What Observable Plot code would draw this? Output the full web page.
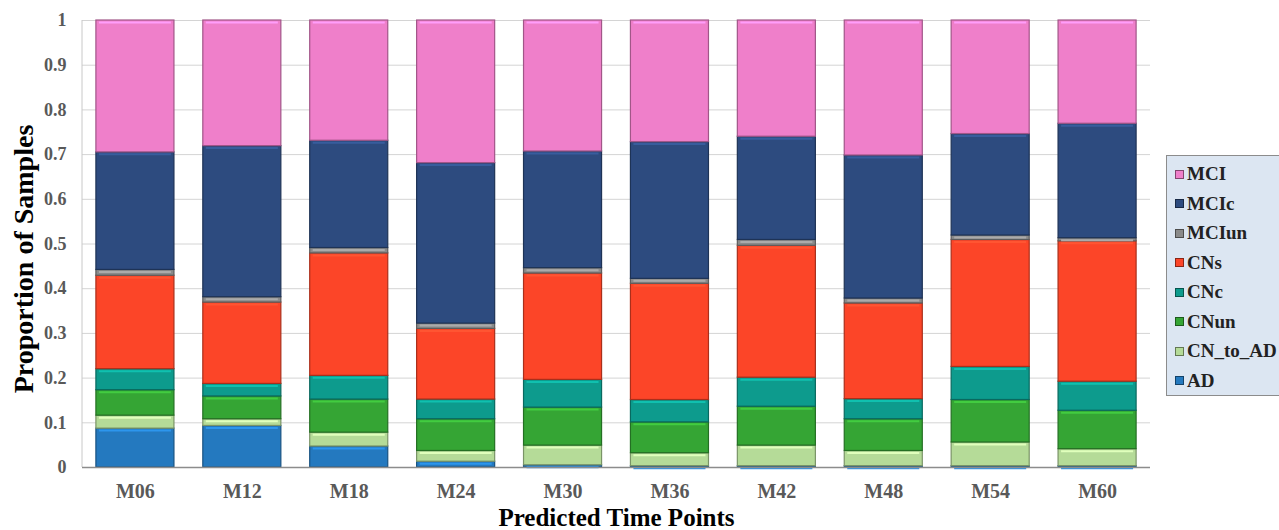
<!DOCTYPE html>
<html>
<head>
<meta charset="utf-8">
<script src="https://cdn.jsdelivr.net/npm/d3@7"></script>
<script src="https://cdn.jsdelivr.net/npm/@observablehq/plot@0.6"></script>
<style>
  html, body { margin: 0; padding: 0; background: #fff; overflow: hidden; }
  #wrap { position: relative; width: 1279px; height: 530px; }
  #legend { position: absolute; left: 1166px; top: 155px; width: 140px; height: 241px;
    background: #dce6f2; border: 1px solid #8c8c8c; box-sizing: border-box;
    font-family: "Liberation Serif", serif; font-weight: bold; font-size: 19px; color: #222; }
  .item { position: absolute; left: 8px; display: flex; align-items: center; height: 22px; white-space: nowrap; }
  .sw { width: 9px; height: 9px; margin-right: 3px; box-sizing: border-box; border: 1px solid rgba(0,0,0,0.45); }
</style>
</head>
<body>
<div id="wrap"></div>
<script>
// ---- data ----
const timePoints = ["M06", "M12", "M18", "M24", "M30", "M36", "M42", "M48", "M54", "M60"];
// stacking order: bottom to top
const categories = ["AD", "CN_to_AD", "CNun", "CNc", "CNs", "MCIun", "MCIc", "MCI"];
const AD       = [0.087, 0.093, 0.047, 0.013, 0.005, 0.003, 0.003, 0.003, 0.003, 0.003];
const CN_to_AD = [0.029, 0.015, 0.031, 0.024, 0.044, 0.029, 0.046, 0.034, 0.053, 0.038];
const CNun     = [0.057, 0.051, 0.074, 0.071, 0.085, 0.069, 0.087, 0.071, 0.095, 0.086];
const CNc      = [0.047, 0.028, 0.053, 0.044, 0.062, 0.050, 0.065, 0.045, 0.074, 0.065];
const CNs      = [0.209, 0.182, 0.274, 0.158, 0.238, 0.260, 0.295, 0.214, 0.284, 0.314];
const MCIun    = [0.013, 0.012, 0.012, 0.012, 0.012, 0.011, 0.013, 0.011, 0.010, 0.007];
const MCIc     = [0.263, 0.338, 0.240, 0.359, 0.261, 0.306, 0.231, 0.320, 0.227, 0.256];
const MCI      = [0.295, 0.281, 0.269, 0.319, 0.293, 0.272, 0.260, 0.302, 0.254, 0.231];
const yTicks = [0, 0.1, 0.2, 0.3, 0.4, 0.5, 0.6, 0.7, 0.8, 0.9, 1];
const legendOrder = ["MCI", "MCIc", "MCIun", "CNs", "CNc", "CNun", "CN_to_AD", "AD"];

const colors = {
  AD: "#2479bf", CN_to_AD: "#b5db98", CNun: "#35a534", CNc: "#0d9b8d",
  CNs: "#fc4528", MCIun: "#8a8a8a", MCIc: "#2d4b7f", MCI: "#ef7fca"
};

const seriesValues = {AD, CN_to_AD, CNun, CNc, CNs, MCIun, MCIc, MCI};
const data = [];
timePoints.forEach((t, i) => {
  categories.forEach(c => data.push({time: t, cat: c, value: seriesValues[c][i]}));
});

const dark = c => d3.color(colors[c]).darker(1.1).formatHex();
const light = c => d3.color(colors[c]).brighter(0.6).formatHex();

const font = "'Liberation Serif', 'Times New Roman', serif";

const leftLine = (index, scales, values, dims) => {
  const l = document.createElementNS("http://www.w3.org/2000/svg", "line");
  l.setAttribute("x1", dims.marginLeft); l.setAttribute("x2", dims.marginLeft);
  l.setAttribute("y1", dims.marginTop); l.setAttribute("y2", dims.height - dims.marginBottom);
  l.setAttribute("stroke", "#c8c8c8");
  return l;
};

const chart = Plot.plot({
  width: 1279,
  height: 530,
  marginLeft: 82,
  marginRight: 129,
  marginTop: 20,
  marginBottom: 63,
  style: {fontFamily: font, fontWeight: "bold", background: "white", overflow: "visible"},
  x: {domain: timePoints, paddingInner: 0.27, paddingOuter: 0.13, round: false, label: null},
  y: {domain: [0, 1], label: null},
  color: {type: "identity"},
  marks: [
    Plot.gridY(yTicks.slice(1), {stroke: "#d4d4d4", strokeOpacity: 1}),
    leftLine,
    Plot.barY(data, Plot.stackY({
      x: "time", y: "value",
      fill: d => colors[d.cat],
      stroke: d => dark(d.cat), strokeWidth: 1.2
    })),
    Plot.tickY(data, Plot.stackY2({
      x: "time", y: "value",
      stroke: d => light(d.cat), strokeWidth: 2, dy: 2, inset: 3
    })),
    Plot.ruleY([0], {stroke: "#8c8c8c", strokeWidth: 1.5}),
    Plot.axisY(yTicks, {
      tickSize: 0, tickPadding: 16, fontSize: 18, fill: "#595959", label: null,
      tickFormat: d => String(+d.toFixed(1))
    }),
    Plot.axisX({tickSize: 0, tickPadding: 16, fontSize: 20, fill: "#595959", label: null}),
    Plot.text(["Proportion of Samples"], {
      text: d => d, frameAnchor: "left", rotate: -90, dx: -58, dy: 15, fontSize: 28,
      fill: "black", fontWeight: "bold", lineAnchor: "middle", textAnchor: "middle"
    }),
    Plot.text(["Predicted Time Points"], {
      text: d => d, frameAnchor: "bottom", dy: 50, fontSize: 25,
      fill: "black", fontWeight: "bold", lineAnchor: "middle", textAnchor: "middle"
    })
  ]
});

const wrap = document.getElementById("wrap");
wrap.appendChild(chart);

const legend = document.createElement("div");
legend.id = "legend";
legendOrder.forEach((c, i) => {
  const it = document.createElement("div");
  it.className = "item";
  it.style.top = (7 + i * 29.5) + "px";
  const sw = document.createElement("span");
  sw.className = "sw";
  sw.style.background = colors[c];
  const tx = document.createElement("span");
  tx.textContent = c;
  it.appendChild(sw); it.appendChild(tx);
  legend.appendChild(it);
});
wrap.appendChild(legend);
</script>
</body>
</html>
